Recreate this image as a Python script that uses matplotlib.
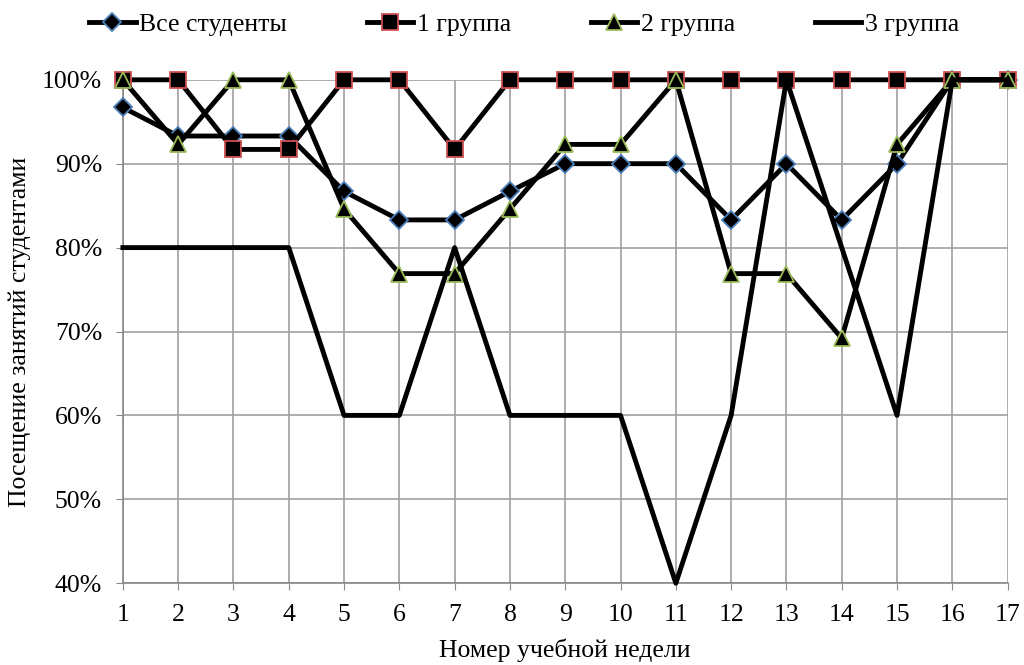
import matplotlib
matplotlib.use("Agg")
import matplotlib.pyplot as plt
from matplotlib.ticker import FuncFormatter, MultipleLocator

plt.rcParams['font.family'] = ['Liberation Serif', 'DejaVu Serif']

weeks = list(range(1, 18))
all_students = [96.7, 93.3, 93.3, 93.3, 86.7, 83.3, 83.3, 86.7, 90, 90, 90, 83.3, 90, 83.3, 90, 100, 100]
group1 = [100, 100, 91.7, 91.7, 100, 100, 91.7, 100, 100, 100, 100, 100, 100, 100, 100, 100, 100]
group2 = [100, 92.3, 100, 100, 84.6, 76.9, 76.9, 84.6, 92.3, 92.3, 100, 76.9, 76.9, 69.2, 92.3, 100, 100]
group3 = [80, 80, 80, 80, 60, 60, 80, 60, 60, 60, 40, 60, 100, 80, 60, 100, 100]
labels = ['Все студенты', '1 группа', '2 группа', '3 группа']

FS = 18.5
fig = plt.figure(figsize=(10.24, 6.65), dpi=100)
ax = fig.add_axes([0.120, 0.123, 0.864, 0.757])

lw = 3.5
ax.plot(weeks, all_students, color='black', lw=lw, marker='D', ms=9.5,
        markerfacecolor='black', markeredgecolor='#4a7ebb', markeredgewidth=1.3,
        label=labels[0], zorder=3, clip_on=False)
ax.plot(weeks, group1, color='black', lw=lw, marker='s', ms=11.5,
        markerfacecolor='black', markeredgecolor='#d05050', markeredgewidth=1.3,
        label=labels[1], zorder=4, clip_on=False)
ax.plot(weeks, group2, color='black', lw=lw, marker='^', ms=12,
        markerfacecolor='black', markeredgecolor='#9bbb59', markeredgewidth=1.3,
        label=labels[2], zorder=5, clip_on=False)
ax.plot(weeks, group3, color='black', lw=lw, label=labels[3], zorder=6, clip_on=False)

ax.set_xlim(1, 17)
ax.set_ylim(40, 100)
ax.set_xticks(weeks)
ax.yaxis.set_major_locator(MultipleLocator(10))
ax.yaxis.set_major_formatter(FuncFormatter(lambda v, p: f"{int(round(v))}%"))
ax.grid(True, color='#a0a0a0', lw=1.2)
ax.set_axisbelow(True)
for s in ['top', 'right']:
    ax.spines[s].set_visible(False)
for s in ['left', 'bottom']:
    ax.spines[s].set_color('#888888')
    ax.spines[s].set_linewidth(1.2)
ax.tick_params(axis='x', direction='out', length=5, color='#888888', labelsize=FS, pad=10)
ax.tick_params(axis='y', direction='out', length=5, color='#888888', labelsize=FS, pad=10)

ax.set_xlabel('Номер учебной недели', fontsize=FS, labelpad=9)
ax.set_ylabel('Посещение занятий студентами', fontsize=FS, labelpad=8)

h, l = ax.get_legend_handles_labels()
hd = dict(zip(l, h))
fig.legend([hd[x] for x in labels], labels, loc='upper center', ncol=4, frameon=False,
           fontsize=FS, bbox_to_anchor=(0.512, 1.015), columnspacing=3.1, handlelength=1.8,
           handletextpad=0.15)

fig.savefig('out.png', dpi=100)
